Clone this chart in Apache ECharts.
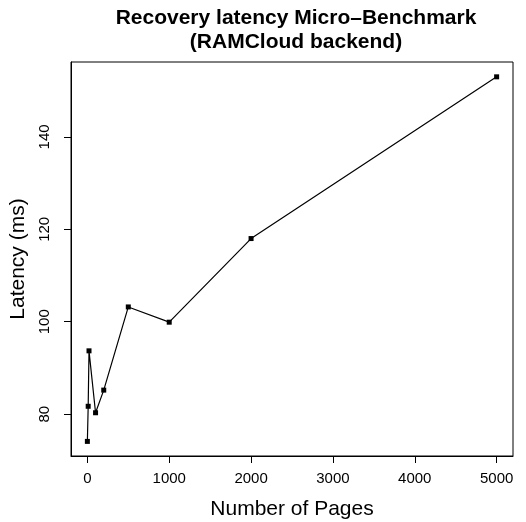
<!DOCTYPE html>
<html>
<head>
<meta charset="utf-8">
<script src="https://cdn.jsdelivr.net/npm/echarts@6/dist/echarts.min.js"></script>
<style>html,body{margin:0;padding:0;background:#fff}#c{width:526px;height:522px}</style>
</head>
<body>
<div id="c"></div>
<script>
var pages = [0, 10, 20, 100, 200, 500, 1000, 2000, 5000];
var latency = [74.1, 81.7, 93.7, 80.3, 85.2, 103.2, 99.9, 118.0, 153.0];
var xTicks = [0, 1000, 2000, 3000, 4000, 5000];
var yTicks = [80, 100, 120, 140];

var FONT = '"Liberation Sans", Arial, Helvetica, sans-serif';
var chart = echarts.init(document.getElementById('c'), null, {renderer: 'canvas'});
var pts = pages.map(function (p, i) { return [p, latency[i]]; });
function plain(v) { return String(v); }
chart.setOption({
  animation: false,
  backgroundColor: '#ffffff',
  title: {
    text: 'Recovery latency Micro\u2013Benchmark\n(RAMCloud backend)',
    left: 291, top: 1, textAlign: 'center',
    textStyle: {fontFamily: FONT, fontWeight: 'bold', fontSize: 21, lineHeight: 24, color: '#000'}
  },
  grid: {left: 71, right: 13, top: 62, bottom: 66, containLabel: false, outerBoundsMode: 'none',
         show: true, borderColor: '#000', borderWidth: 1, backgroundColor: 'transparent'},
  xAxis: {
    type: 'value', min: -200, max: 5200,
    name: 'Number of Pages', nameLocation: 'middle', nameGap: 43,
    nameTextStyle: {fontFamily: FONT, fontSize: 21, color: '#000'},
    axisLine: {show: true, onZero: false, lineStyle: {color: '#000', width: 1}},
    splitLine: {show: false},
    axisTick: {show: true, inside: false, length: 7, customValues: xTicks, lineStyle: {color: '#000'}},
    axisLabel: {customValues: xTicks, formatter: plain, margin: 15, fontFamily: FONT, fontSize: 15, color: '#000'}
  },
  yAxis: {
    type: 'value', min: 70.94, max: 156.21,
    name: 'Latency (ms)', nameLocation: 'middle', nameGap: 38, nameRotate: 90,
    nameTextStyle: {fontFamily: FONT, fontSize: 21, color: '#000'},
    axisLine: {show: true, onZero: false, lineStyle: {color: '#000', width: 1}},
    splitLine: {show: false},
    axisTick: {show: true, inside: false, length: 7, customValues: yTicks, lineStyle: {color: '#000'}},
    axisLabel: {customValues: yTicks, formatter: plain, rotate: 90, margin: 19, fontFamily: FONT, fontSize: 15, color: '#000'}
  },
  series: [{
    type: 'line', data: pts,
    symbol: 'rect', symbolSize: 5,
    lineStyle: {color: '#000', width: 1.2},
    itemStyle: {color: '#000'}
  }]
});
</script>
</body>
</html>
